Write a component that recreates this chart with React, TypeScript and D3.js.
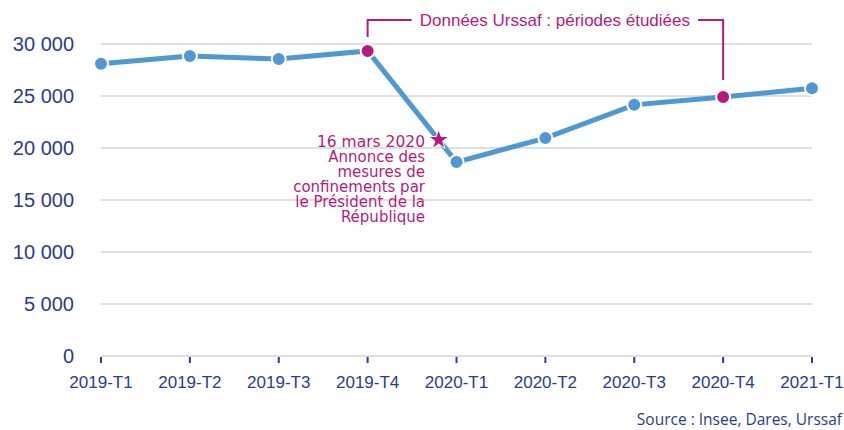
import React from 'react';
import * as d3 from 'd3';

// Quarterly values
const quarters = ['2019-T1', '2019-T2', '2019-T3', '2019-T4', '2020-T1', '2020-T2', '2020-T3', '2020-T4', '2021-T1'];
const values = [28100, 28850, 28550, 29330, 18650, 20950, 24150, 24900, 25750];
// quarters highlighted as Urssaf study periods
const highlighted = ['2019-T4', '2020-T4'];
const yTicks = [0, 5000, 10000, 15000, 20000, 25000, 30000];
const bracketLabel = 'Données Urssaf : périodes étudiées';
const eventLines = ['16 mars 2020', 'Annonce des', 'mesures de', 'confinements par', 'le Président de la', 'République'];
const eventFraction = 0.8; // position of 16 March between 2019-T4 and 2020-T1
const sourceText = 'Source : Insee, Dares, Urssaf';

const W = 844;
const H = 430;
const margin = { top: 44, right: 32, bottom: 74, left: 101 };

const BLUE = '#4f98d4';
const DARK = '#2b3b8e';
const MAGENTA = '#b51a80';
const GRID = '#d4d4d4';
const FONT = '"Liberation Sans", Arial, sans-serif';
const NOTE_FONT = '"DejaVu Sans", sans-serif';

const fmt = (v: number) => d3.format(',')(v).replace(/,/g, ' ');

export default function App() {
  const x = d3.scalePoint<string>()
    .domain(quarters)
    .range([margin.left, W - margin.right]);

  const y = d3.scaleLinear()
    .domain([0, 30000])
    .range([H - margin.bottom, margin.top]);

  const line = d3.line<number>()
    .x((_, i) => x(quarters[i]) as number)
    .y(d => y(d));

  // star on the line between 2019-T4 and 2020-T1
  const i0 = quarters.indexOf('2019-T4');
  const starX = (x(quarters[i0]) as number) + eventFraction * x.step();
  const starY = y(values[i0] + eventFraction * (values[i0 + 1] - values[i0]));
  const star = d3.symbol().type(d3.symbolStar).size(130)();

  const xa = x(highlighted[0]) as number;
  const xb = x(highlighted[1]) as number;
  const bracketY = 20;

  return (
    <svg width={W} height={H} style={{ position: 'absolute', left: 0, top: 0, background: '#fff' }}>
      {/* gridlines */}
      {yTicks.map(t => (
        <line key={t} x1={margin.left} x2={W - margin.right} y1={y(t)} y2={y(t)} stroke={GRID} strokeWidth={1.5} />
      ))}
      {/* y labels */}
      {yTicks.map(t => (
        <text key={'l' + t} x={74} y={y(t)} dy="0.35em" textAnchor="end" fontFamily={FONT} fontSize={20} fill={DARK}>
          {fmt(t)}
        </text>
      ))}
      {/* x ticks and labels */}
      {quarters.map(q => (
        <g key={q} transform={`translate(${x(q)},${y(0)})`}>
          <line y1={1} y2={7} stroke={DARK} strokeWidth={2} />
          <text y={32} textAnchor="middle" fontFamily={FONT} fontSize={17} fill={DARK}>{q}</text>
        </g>
      ))}

      {/* bracket for the study periods */}
      <path
        d={`M${xa},${y(values[i0]) - 14}V${bracketY}H${xa + 44}M${xb - 25},${bracketY}H${xb}V${y(values[quarters.indexOf(highlighted[1])]) - 17}`}
        fill="none" stroke={MAGENTA} strokeWidth={2}
      />
      <text x={(xa + 44 + xb - 25) / 2} y={bracketY} dy="0.35em" textAnchor="middle" fontFamily={FONT} fontSize={17} fill={MAGENTA}>
        {bracketLabel}
      </text>

      {/* series line */}
      <path d={line(values) as string} fill="none" stroke={BLUE} strokeWidth={5} />
      {values.map((v, i) => (
        <circle key={i} cx={x(quarters[i])} cy={y(v)} r={7}
          fill={highlighted.includes(quarters[i]) ? MAGENTA : BLUE} stroke="#fff" strokeWidth={2} />
      ))}

      {/* 16 March event */}
      <path d={star as string} transform={`translate(${starX},${starY})`} fill={MAGENTA} stroke="#fff" strokeWidth={1} />
      <text textAnchor="end" fontFamily={NOTE_FONT} fill={MAGENTA}>
        {eventLines.map((t, i) => (
          <tspan key={t} x={425} y={147 + i * 14.9} fontSize={i === 0 ? 15.5 : 15}>{t}</tspan>
        ))}
      </text>

      <text x={842} y={425} textAnchor="end" fontFamily='"Open Sans", sans-serif' fontSize={15.5} fill={DARK}>{sourceText}</text>
    </svg>
  );
}
